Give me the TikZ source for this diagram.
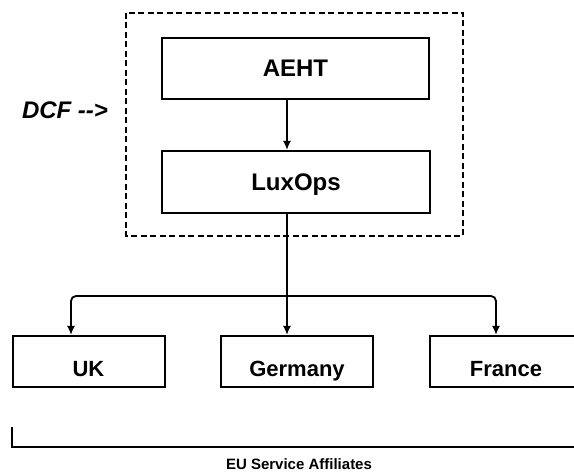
\documentclass[tikz,border=0pt]{standalone}
\usepackage{fontspec}
\setmainfont{Liberation Sans}
\usetikzlibrary{arrows.meta}

\begin{document}
\begin{tikzpicture}[x=1pt,y=-1pt, % 坐标按像素取, y 向下
    unit/.style={draw,line width=2pt,inner sep=0pt,text depth=0pt},
    topunit/.style={unit,minimum width=267pt,minimum height=61pt,
      text height=17pt,font=\bfseries\fontsize{24}{28}\selectfont},
    affunit/.style={unit,minimum width=152pt,minimum height=51pt,
      text height=31pt,font=\bfseries\fontsize{22}{26}\selectfont},
    link/.style={line width=1.8pt,-{Latex[length=9pt,width=8pt]}}]
      \useasboundingbox (0,0) rectangle (574,473);
      % 上面的 DCF 框
      \draw[line width=2.2pt,dash pattern=on 6pt off 3.5pt]
        (126,13) rectangle (463,236);
      \node[font=\bfseries\itshape\fontsize{24}{28}\selectfont] (dcf) at (65,110) {DCF -{}->};
      \node[topunit] (aeht) at (295.5,68.5) {AEHT};
      \node[topunit,minimum width=268pt,minimum height=62pt] (luxops) at (296,182) {LuxOps};
      % 下面的三个分支
      \node[affunit] (uk) at (88.5,361.5) {UK};
      \node[affunit] (germany) at (297,361.5) {Germany};
      \node[affunit] (france) at (506,361.5) {France};
      \coordinate (spine) at (287,296);
      \coordinate (ukx) at (71,0);
      \coordinate (frx) at (496,0);
      \draw[link] (spine |- aeht.south) -- (spine |- luxops.north);
      \draw[link] (spine |- luxops.south) -- (spine |- germany.north);
      \draw[link,rounded corners=5pt] (spine) -| (ukx |- uk.north);
      \draw[link,rounded corners=5pt] (spine) -| (frx |- france.north);
      % 底部的括线
      \coordinate (brl) at (12,427);
      \coordinate (brr) at (580,447);
      \draw[line width=2pt] (brl) -- (brl |- brr) -- (brr);
      \node[font=\bfseries\fontsize{15}{18}\selectfont] (eu) at (299,464) {EU Service Affiliates};
    \end{tikzpicture}
\end{document}
